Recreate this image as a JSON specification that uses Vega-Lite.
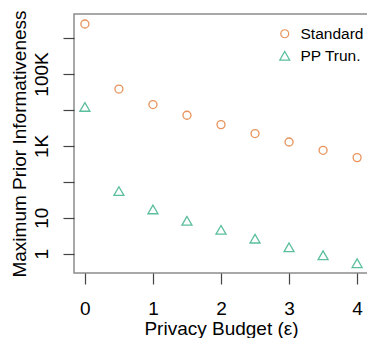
{
  "$schema": "https://vega.github.io/schema/vega-lite/v6.json",
  "width": 294,
  "height": 259,
  "autosize": {"type": "none"},
  "padding": {"left": 74, "top": 14, "right": 0, "bottom": 65},
  "background": "white",
  "config": {
    "font": "Liberation Sans",
    "view": {"stroke": "#8c8c8c", "strokeWidth": 1.5},
    "axis": {
      "domain": false,
      "grid": false,
      "tickSize": 11,
      "tickColor": "#444",
      "tickWidth": 1.2,
      "labelFont": "Liberation Sans",
      "labelFontSize": 19,
      "labelColor": "black",
      "titleFont": "Liberation Sans",
      "titleFontSize": 19,
      "titleFontWeight": "normal",
      "titleColor": "black"
    }
  },
  "data": {
    "values": [
      {"eps": 0, "series": "Standard", "value": 2460000},
      {"eps": 0.5, "series": "Standard", "value": 38000},
      {"eps": 1, "series": "Standard", "value": 14100},
      {"eps": 1.5, "series": "Standard", "value": 7100},
      {"eps": 2, "series": "Standard", "value": 3900},
      {"eps": 2.5, "series": "Standard", "value": 2200},
      {"eps": 3, "series": "Standard", "value": 1280},
      {"eps": 3.5, "series": "Standard", "value": 750},
      {"eps": 4, "series": "Standard", "value": 470},
      {"eps": 0, "series": "PP Trun.", "value": 12100},
      {"eps": 0.5, "series": "PP Trun.", "value": 55},
      {"eps": 1, "series": "PP Trun.", "value": 17},
      {"eps": 1.5, "series": "PP Trun.", "value": 8.2},
      {"eps": 2, "series": "PP Trun.", "value": 4.6},
      {"eps": 2.5, "series": "PP Trun.", "value": 2.6},
      {"eps": 3, "series": "PP Trun.", "value": 1.5},
      {"eps": 3.5, "series": "PP Trun.", "value": 0.9},
      {"eps": 4, "series": "PP Trun.", "value": 0.54}
    ]
  },
  "mark": {"type": "point", "filled": false, "strokeWidth": 1.3, "opacity": 1},
  "encoding": {
    "x": {
      "field": "eps",
      "type": "quantitative",
      "scale": {"domain": [-0.16, 4.16], "nice": false, "zero": false},
      "axis": {
        "values": [0, 1, 2, 3, 4],
        "format": "d",
        "labelBaseline": "alphabetic",
        "labelPadding": 30,
        "title": "Privacy Budget (ε)",
        "titleX": 147,
        "titleY": 61,
        "titleBaseline": "alphabetic",
        "titleAnchor": "middle"
      }
    },
    "y": {
      "field": "value",
      "type": "quantitative",
      "scale": {"type": "log", "domain": [0.2884, 4677351], "nice": false, "zero": false},
      "axis": {
        "values": [1, 10, 100, 1000, 10000, 100000, 1000000],
        "labelExpr": "datum.value == 1 ? '1' : datum.value == 10 ? '10' : datum.value == 1000 ? '1K' : datum.value == 100000 ? '100K' : ''",
        "labelAngle": -90,
        "labelAlign": "center",
        "labelBaseline": "alphabetic",
        "labelPadding": 16,
        "title": "Maximum Prior Informativeness",
        "titleAngle": -90,
        "titleX": -49,
        "titleY": 129.5,
        "titleBaseline": "alphabetic",
        "titleAlign": "center"
      }
    },
    "color": {
      "field": "series",
      "type": "nominal",
      "scale": {"domain": ["Standard", "PP Trun."], "range": ["#E8925A", "#5BBE9E"]},
      "legend": {
        "title": null,
        "orient": "none",
        "legendX": 203,
        "legendY": 12,
        "padding": 0,
        "labelFontSize": 15.5,
        "labelFont": "Liberation Sans",
        "labelColor": "black",
        "symbolSize": 40,
        "symbolStrokeWidth": 1.2,
        "labelOffset": 8,
        "rowPadding": 5
      }
    },
    "shape": {
      "field": "series",
      "type": "nominal",
      "scale": {"domain": ["Standard", "PP Trun."], "range": ["circle", "triangle-up"]}
    },
    "size": {
      "field": "series",
      "type": "nominal",
      "scale": {"domain": ["Standard", "PP Trun."], "range": [64, 100]},
      "legend": null
    }
  }
}
